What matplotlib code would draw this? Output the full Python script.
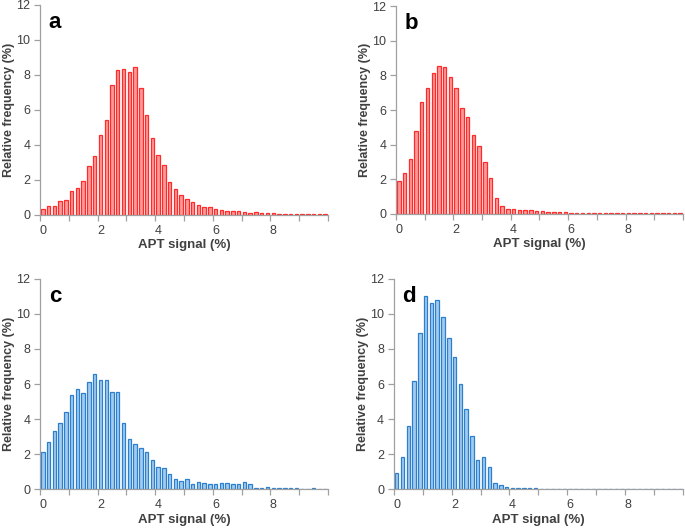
import numpy as np
import matplotlib.pyplot as plt

plt.rcParams['font.family'] = ['Liberation Sans', 'DejaVu Sans']

# bin centres of the APT signal histogram (%), 0.2 wide
signal = np.round(np.arange(0, 10, 0.2), 1)

freq_a = [0.35, 0.5, 0.5, 0.78, 0.85, 1.38, 1.55, 1.95, 2.8, 3.38,
          4.58, 5.4, 7.4, 8.26, 8.33, 8.15, 8.48, 7.25, 5.7, 4.38,
          3.43, 2.85, 1.9, 1.47, 1.13, 0.93, 0.72, 0.55, 0.45, 0.48,
          0.32, 0.3, 0.22, 0.2, 0.2, 0.17, 0.14, 0.15, 0.12, 0.09,
          0.1, 0.06, 0.05, 0.05, 0.05, 0.04, 0.04, 0.04, 0.04, 0.04]
freq_b = [1.88, 2.38, 3.15, 4.78, 6.45, 7.25, 8.13, 8.55, 8.5, 7.9,
          7.25, 6.1, 5.62, 4.57, 3.93, 2.98, 2.1, 0.9, 0.45, 0.27,
          0.27, 0.21, 0.25, 0.25, 0.15, 0.15, 0.12, 0.1, 0.1, 0.1,
          0.07, 0.07, 0.07, 0.05, 0.05, 0.05, 0.04, 0.04, 0.04, 0.04,
          0.04, 0.04, 0.04, 0.04, 0.04, 0.04, 0.04, 0.04, 0.04, 0.04]
freq_c = [2.1, 2.7, 3.3, 3.75, 4.4, 5.4, 5.72, 5.5, 6.1, 6.55,
          6.25, 6.25, 5.57, 5.53, 3.8, 2.84, 2.58, 2.37, 2.1, 1.66,
          1.28, 1.18, 0.84, 0.58, 0.44, 0.57, 0.27, 0.4, 0.36, 0.29,
          0.3, 0.34, 0.34, 0.28, 0.27, 0.38, 0.26, 0.08, 0.08, 0.1,
          0.04, 0.03, 0.03, 0.03, 0.03, 0.0, 0.0, 0.03, 0.0, 0.0]
freq_d = [0.93, 1.84, 3.58, 6.18, 8.9, 11.03, 10.6, 10.82, 9.85, 8.6,
          7.53, 5.98, 4.56, 3.05, 1.63, 1.82, 1.28, 0.34, 0.23, 0.13,
          0.06, 0.04, 0.03, 0.03, 0.03, 0, 0, 0, 0, 0,
          0, 0, 0, 0, 0, 0, 0, 0, 0, 0,
          0, 0, 0, 0, 0, 0, 0, 0, 0, 0]

panels = ['a', 'b', 'c', 'd']
series = [freq_a, freq_b, freq_c, freq_d]
fills = ['#ff9a9a', '#ff9a9a', '#a3cbec', '#a3cbec']
edges = ['#ff2a2a', '#ff2a2a', '#2a7fd0', '#2a7fd0']
boxes = [[0.0584, 0.5936, 0.4204, 0.397],
         [0.578, 0.5955, 0.419, 0.393],
         [0.0584, 0.0756, 0.4204, 0.397],
         [0.575, 0.0756, 0.4219, 0.397]]

fig = plt.figure(figsize=(6.85, 5.29), dpi=100)
txt = '#404040'
for name, y, fc, ec, box in zip(panels, series, fills, edges, boxes):
    ax = fig.add_axes(box)
    ax.bar(signal, y, width=0.12, color=fc, edgecolor=ec, linewidth=0.9)
    ax.set_xlim(-0.1, 9.9)
    ax.set_ylim(0, 12)
    ax.set_xticks([0, 2, 4, 6, 8])
    ax.set_xticks(np.arange(-0.1, 10, 1.0), minor=True)
    ax.set_yticks(range(0, 13, 2))
    ax.tick_params(axis='x', which='major', length=0, pad=7, labelsize=9, labelcolor=txt)
    ax.tick_params(axis='x', which='minor', length=4, color='#a0a0a0', width=0.9)
    ax.tick_params(axis='y', length=4, color='#a0a0a0', width=0.9, labelsize=9, labelcolor=txt, pad=3)
    for s in ['top', 'right']:
        ax.spines[s].set_visible(False)
    for s in ['left', 'bottom']:
        ax.spines[s].set_color('#a0a0a0')
        ax.spines[s].set_linewidth(0.9)
    ax.set_xlabel('APT signal (%)', fontsize=9.5, fontweight='bold', color=txt, labelpad=2)
    ax.set_ylabel('Relative frequency (%)', fontsize=9, fontweight='bold', color=txt, labelpad=1)
    ax.text(0.03, 0.965, name, transform=ax.transAxes, fontsize=16, fontweight='bold',
            va='top', ha='left')

fig.savefig('out.png', dpi=100)
